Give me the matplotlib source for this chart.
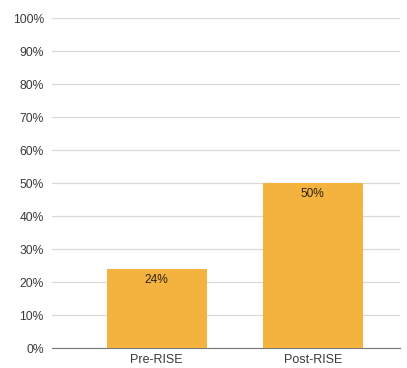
import matplotlib
matplotlib.use("Agg")
from matplotlib import pyplot as plt
from matplotlib.ticker import PercentFormatter

# data
categories = ["Pre-RISE", "Post-RISE"]
values = [24, 50]
labels = ["24%", "50%"]

plt.rcParams['font.family'] = ['Liberation Sans', 'DejaVu Sans']

fig = plt.figure(figsize=(4.07, 3.68), dpi=100)
ax = fig.add_axes([0.128, 0.054, 0.855, 0.897])

bars = ax.bar(range(len(categories)), values, width=0.64, color="#F4B23F", zorder=3)
for b, lab in zip(bars, labels):
    ax.text(b.get_x() + b.get_width() / 2, b.get_height() - 1.5, lab,
            ha="center", va="top", fontsize=8.6, color="#2e2210", zorder=4)

ax.set_ylim(0, 100)
ax.set_xlim(-0.67, 1.56)
ax.set_yticks(range(0, 101, 10))
ax.yaxis.set_major_formatter(PercentFormatter(decimals=0))
ax.set_xticks(range(len(categories)))
ax.set_xticklabels(categories)
ax.grid(axis="y", color="#d9d9d9", linewidth=0.9, zorder=0)
for s in ["top", "right", "left"]:
    ax.spines[s].set_visible(False)
ax.spines["bottom"].set_color("#777777")
ax.tick_params(axis="both", length=0, colors="#3a3a3a")
ax.tick_params(axis="y", pad=6, labelsize=8.7)
ax.tick_params(axis="x", pad=4, labelsize=9)

fig.savefig("out.png", dpi=100)
